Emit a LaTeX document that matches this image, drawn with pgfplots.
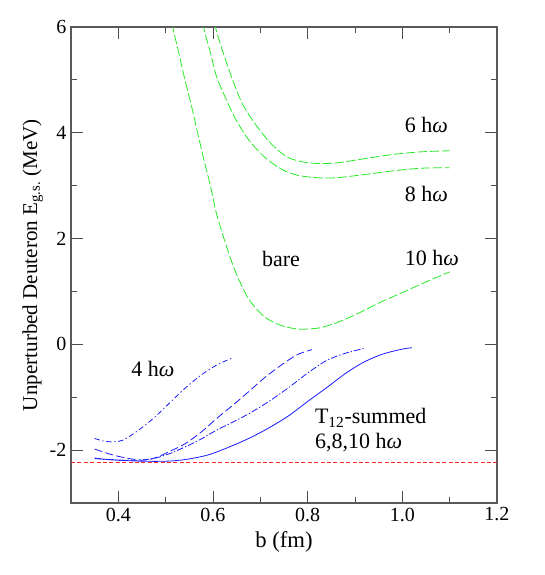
\documentclass[border=0pt]{standalone}
\usepackage{fontspec}
\setmainfont{LiberationSerif}[Extension=.ttf, UprightFont=*-Regular, ItalicFont=*-Italic, BoldFont=*-Bold, BoldItalicFont=*-BoldItalic]
\usepackage{pgfplots}
\pgfplotsset{compat=1.18}

\definecolor{lgreen}{rgb}{0.15,0.92,0.15}
\definecolor{lblue}{rgb}{0.1,0.1,1}
\definecolor{lred}{rgb}{1,0.15,0.15}

\begin{document}
\begin{tikzpicture}
\begin{axis}[
  scale only axis,
  width=319.5pt, height=357pt,
  xmin=0.3, xmax=1.2, ymin=-3, ymax=6,
  xtick={0.4,0.6,0.8,1.0,1.2},
  xticklabels={0.4,0.6,0.8,1.0,1.2},
  ytick={-2,0,2,4,6},
  yticklabels={-2,0,2,4,6},
  minor x tick num=1, minor y tick num=1,
  tick align=inside,
  major tick length=9pt, minor tick length=4.5pt,
  axis line style={black!65, line width=0.8pt},
  tick style={black!70, line width=0.7pt},
  tick label style={font=\fontsize{15}{18}\selectfont},
  xlabel={b (fm)},
  ylabel={Unperturbed Deuteron E\textsubscript{g.s.} (MeV)},
  xlabel style={font=\fontsize{17}{20}\selectfont, yshift=-1pt},
  ylabel style={font=\fontsize{15.8}{19}\selectfont, yshift=-2pt},
  every axis plot/.append style={line width=0.6pt},
]
% bare curves
\addplot[lgreen, smooth, dash pattern=on 7pt off 2pt] coordinates {
(0.601,6.3)(0.605,6.0)(0.622,5.50)(0.642,4.99)(0.662,4.55)(0.689,4.17)
(0.723,3.79)(0.757,3.54)(0.79,3.45)(0.82,3.42)(0.86,3.43)(0.92,3.51)
(0.98,3.59)(1.04,3.64)(1.10,3.66)};
\addplot[lgreen, smooth, dash pattern=on 7pt off 2pt] coordinates {
(0.576,6.3)(0.580,6.0)(0.595,5.50)(0.608,5.05)(0.629,4.61)(0.649,4.24)
(0.676,3.86)(0.709,3.54)(0.743,3.32)(0.777,3.20)(0.82,3.15)(0.86,3.15)
(0.92,3.21)(0.98,3.28)(1.04,3.33)(1.10,3.34)};
\addplot[lgreen, smooth, dash pattern=on 7pt off 2pt] coordinates {
(0.512,6.3)(0.515,6.0)(0.528,5.50)(0.541,4.99)(0.555,4.49)(0.568,3.98)
(0.581,3.48)(0.595,2.98)(0.608,2.45)(0.629,1.84)(0.649,1.34)(0.676,0.85)
(0.709,0.52)(0.743,0.36)(0.777,0.29)(0.80,0.29)(0.83,0.32)(0.87,0.44)
(0.91,0.60)(0.95,0.78)(1.00,0.98)(1.05,1.18)(1.10,1.37)};
% T12-summed curves
\addplot[lblue, smooth, dash pattern=on 4pt off 2pt on 1pt off 2pt] coordinates {
(0.35,-1.78)(0.37,-1.83)(0.39,-1.845)(0.41,-1.81)(0.44,-1.64)(0.474,-1.40)
(0.507,-1.12)(0.541,-0.83)(0.575,-0.58)(0.608,-0.39)(0.639,-0.265)};
\addplot[lblue, smooth, dash pattern=on 6pt off 2.5pt] coordinates {
(0.35,-1.98)(0.38,-2.07)(0.406,-2.13)(0.43,-2.17)(0.454,-2.19)(0.48,-2.14)
(0.507,-2.03)(0.541,-1.88)(0.575,-1.66)(0.608,-1.40)(0.642,-1.15)(0.676,-0.89)
(0.709,-0.63)(0.743,-0.40)(0.777,-0.20)(0.809,-0.10)};
\addplot[lblue, smooth, dash pattern=on 5pt off 1.5pt on 1pt off 1.5pt] coordinates {
(0.35,-2.15)(0.38,-2.18)(0.406,-2.19)(0.44,-2.19)(0.474,-2.16)(0.507,-2.07)
(0.541,-1.94)(0.575,-1.79)(0.608,-1.62)(0.642,-1.47)(0.678,-1.30)(0.718,-1.08)
(0.758,-0.83)(0.799,-0.55)(0.839,-0.31)(0.879,-0.17)(0.92,-0.076)};
\addplot[lblue, smooth] coordinates {
(0.35,-2.16)(0.40,-2.19)(0.45,-2.21)(0.50,-2.21)(0.54,-2.18)(0.59,-2.09)
(0.64,-1.92)(0.68,-1.76)(0.72,-1.57)(0.76,-1.35)(0.80,-1.08)(0.84,-0.82)
(0.88,-0.55)(0.92,-0.33)(0.96,-0.18)(1.00,-0.09)(1.02,-0.065)};
% exact binding energy
\addplot[lred, dash pattern=on 3pt off 1.8pt] coordinates {(0.3,-2.2246)(1.2,-2.2246)};

\begin{scope}[every node/.style={font=\fontsize{16.5}{19}\selectfont, inner sep=0pt}]
\node[anchor=base west] at (axis cs:1.005,4.0) {6 h\textit{ω}};
\node[anchor=base west] at (axis cs:1.005,2.71) {8 h\textit{ω}};
\node[anchor=base west] at (axis cs:1.005,1.50) {10 h\textit{ω}};
\node[anchor=base west] at (axis cs:0.703,1.48) {bare};
\node[anchor=base west] at (axis cs:0.427,-0.60) {4 h\textit{ω}};
\node[anchor=base west] at (axis cs:0.815,-1.50) {T\textsubscript{12}-summed};
\node[anchor=base west] at (axis cs:0.815,-1.97) {6,8,10 h\textit{ω}};
\end{scope}
\end{axis}
\path[use as bounding box] (-53.25pt,-54pt) rectangle (355.5pt,377.25pt);
\end{tikzpicture}
\end{document}
